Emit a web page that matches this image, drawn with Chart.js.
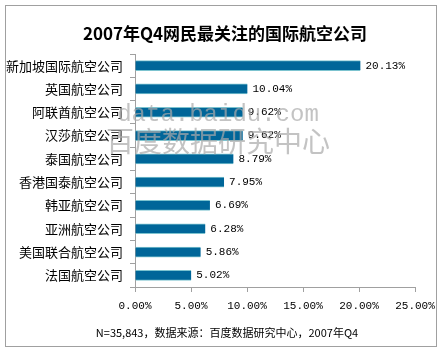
<!DOCTYPE html>
<html>
<head>
<meta charset="utf-8">
<script src="https://cdn.jsdelivr.net/npm/chart.js@4"></script>
<style>
  html, body { margin: 0; padding: 0; background: #fff; }
  #wrap { position: relative; width: 444px; height: 353px; }
</style>
</head>
<body>
<div id="wrap"><canvas id="myChart" width="444" height="353"></canvas></div>
<script>
// airlines, top to bottom
var airlines = ["新加坡国际航空公司", "英国航空公司", "阿联酋航空公司", "汉莎航空公司", "泰国航空公司",
  "香港国泰航空公司", "韩亚航空公司", "亚洲航空公司", "美国联合航空公司", "法国航空公司"];
// share of attention, percent
var shares = [20.13, 10.04, 9.62, 9.62, 8.79, 7.95, 6.69, 6.28, 5.86, 5.02];
// x axis ticks
var xTicks = [0, 5, 10, 15, 20, 25];

var titleText = "2007年Q4网民最关注的国际航空公司";
var noteText = "N=35,843，数据来源：百度数据研究中心，2007年Q4";

var extras = {
  id: 'extras',
  beforeDraw: function(chart) {
    var c = chart.ctx;
    c.save();
    c.fillStyle = '#fff';
    c.fillRect(0, 0, chart.width, chart.height);
    c.strokeStyle = '#a0a0a0';
    c.lineWidth = 1;
    c.strokeRect(5.5, 5.5, 431, 341);
    c.fillStyle = '#000';
    c.textAlign = 'center';
    c.textBaseline = 'middle';
    c.font = 'bold 17px "Noto Sans CJK SC"';
    c.fillText(titleText, 225, 34);
    c.font = '11px "Noto Sans CJK SC"';
    c.fillText(noteText, 227, 333);
    c.restore();
  },
  afterDatasetsDraw: function(chart) {
    var c = chart.ctx;
    var meta = chart.getDatasetMeta(0);
    c.save();
    c.fillStyle = '#000';
    c.font = '11px "Liberation Mono"';
    c.textAlign = 'left';
    c.textBaseline = 'middle';
    meta.data.forEach(function(bar, i) {
      c.fillText(shares[i].toFixed(2) + '%', bar.x + 5, bar.y);
    });
    // watermark
    c.fillStyle = 'rgba(170,170,170,0.7)';
    c.textAlign = 'center';
    c.font = '24px "Liberation Mono"';
    c.fillText('data.baidu.com', 218, 115);
    c.font = '28px "Noto Sans CJK SC"';
    c.fillText('百度数据研究中心', 218, 141);
    c.restore();
  }
};

var ctx = document.getElementById("myChart");
var myChart = new Chart(ctx, {
  type: 'bar',
  data: {
    labels: airlines,
    datasets: [{
      data: shares,
      backgroundColor: '#006699',
      borderColor: '#7cc3cf',
      borderWidth: { top: 1, bottom: 1, left: 0, right: 0 },
      borderSkipped: false,
      barThickness: 10
    }]
  },
  options: {
    indexAxis: 'y',
    responsive: false,
    animation: false,
    layout: { padding: { left: 5, top: 54, right: 29, bottom: 0 } },
    plugins: {
      legend: { display: false },
      tooltip: { enabled: false }
    },
    scales: {
      x: {
        min: 0,
        max: 25,
        afterFit: function(s) { s.height = 66; },
        afterBuildTicks: function(s) { s.ticks = xTicks.map(function(v) { return { value: v }; }); },
        border: { color: '#a0a0a0' },
        grid: { drawOnChartArea: false, color: '#a0a0a0', tickLength: 5 },
        ticks: {
          color: '#000',
          padding: 7,
          maxRotation: 0,
          font: { family: '"Liberation Mono"', size: 11 },
          callback: function(v) { return v.toFixed(2) + '%'; }
        }
      },
      y: {
        afterFit: function(s) { s.width = 130; },
        border: { color: '#a0a0a0' },
        grid: { drawOnChartArea: false, color: '#a0a0a0', tickLength: 5, offset: true },
        ticks: {
          color: '#000',
          padding: 7,
          font: { family: '"Noto Sans CJK SC"', size: 13 }
        }
      }
    }
  },
  plugins: [extras]
});
</script>
</body>
</html>
